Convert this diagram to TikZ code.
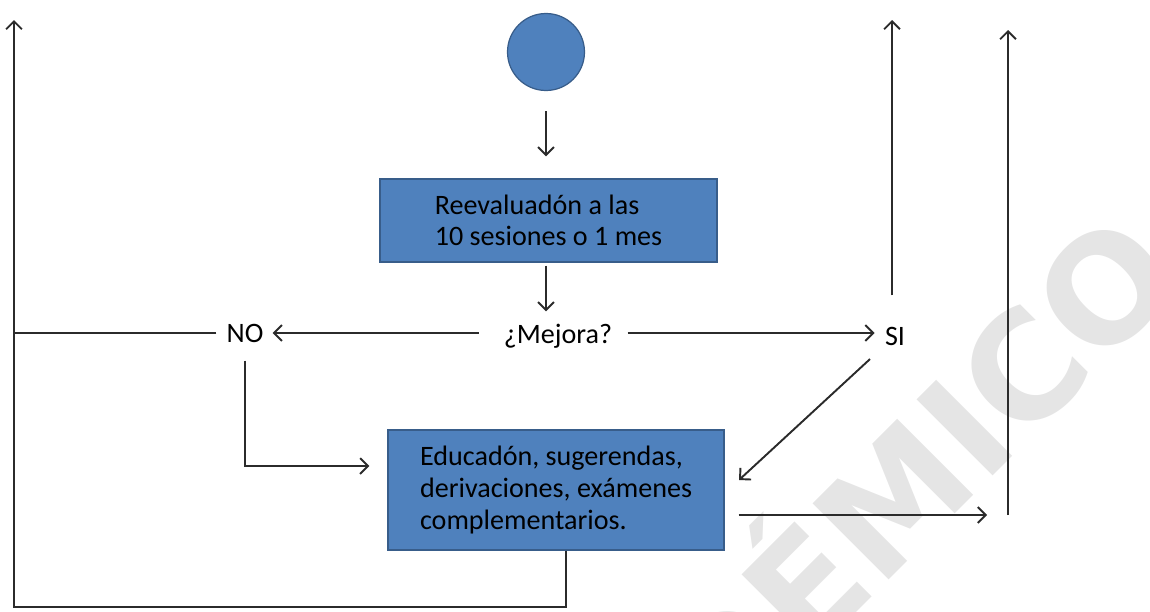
\documentclass[tikz,border=0pt]{standalone}
\usepackage{fontspec}
\setmainfont{Carlito}
\newfontfamily\marcafont{DejaVu Sans}
\usetikzlibrary{arrows.meta}
\usetikzlibrary{positioning}
\definecolor{azul}{HTML}{4F81BD}
\definecolor{azulborde}{HTML}{385D8A}
\definecolor{trazo}{HTML}{2B2B2B}
\tikzset{caja/.style = {draw=azulborde, fill=azul, line width=0.7pt, inner sep=0, align=left, font=\fontsize{16}{18}\selectfont}}
\tikzset{etiq/.style = {inner sep=0, font=\fontsize{16}{18}\selectfont}}
\tikzset{linea/.style = {draw=trazo, line width=1.1pt}}
\tikzset{flecha/.style = {linea, -{Straight Barb[length=4.5pt,width=9pt]}}}

\begin{document}
\begin{tikzpicture}[x=0.02cm, y=-0.02cm]
        \useasboundingbox (0,0) rectangle (1150,612);
        \begin{scope}
            \clip (0,0) rectangle (1150,612);
            \node [text=black!10, rotate=45, inner sep=0, font=\marcafont\bfseries\fontsize{84}{84}\selectfont] (marca) at (788,586) {ACADÉMICO};
        \end{scope}
        \node [circle, fill=azul, draw=azulborde, line width=0.7pt, minimum size=1.54cm, inner sep=0] (ini) at (546,52) {};
        \node [caja, minimum width=6.74cm, minimum height=1.66cm] (reev) at (548.5,220.5) {Reevaluadón a las\\10 sesiones o 1 mes};
        \node [etiq, anchor=base] (mejora) at (558,343) {¿Mejora?};
        \node [etiq] (no) at (245,333) {NO};
        \node [etiq] (si) at (895,336) {SI};
        \node [caja, minimum width=6.72cm, minimum height=2.4cm] (edu) at (556,490) {Educadón, sugerendas,\\derivaciones, exámenes\\complementarios.};
        \coordinate (izqarr) at (14,20);
        \coordinate (izqabj) at (14,607);
        \coordinate (sisup) at (892,20);
        \coordinate (dersup) at (1008,30);
        \coordinate (derabj) at (1008,515);
        \coordinate (diag) at (739,480);
        \draw [flecha, shorten <=0.4cm, shorten >=0.44cm] (ini) -- (ini |- reev.north);
        \draw [flecha, shorten <=0.06cm, shorten >=0.24cm] (reev.south -| ini) -- (mejora.north -| ini);
        \draw [flecha, shorten <=0.5cm, shorten >=0.18cm] (mejora.west |- no) -- (no.east);
        \draw [linea, shorten <=0.2cm] (no.west) -- (no.west -| izqabj);
        \draw [flecha, shorten <=0.3cm, shorten >=0.2cm] (mejora.east |- no) -- (si.west |- no);
        \draw [flecha, shorten <=0.62cm] (si.north -| sisup) -- (sisup);
        \draw [flecha, shorten <=0.68cm] (si.center) -- (diag);
        \draw [flecha, shorten <=0.36cm, shorten >=0.36cm] (no.south) |- ([yshift=0.48cm]edu.west);
        \draw [flecha, shorten <=0.28cm, shorten >=0.42cm] (edu.east |- derabj) -- (derabj);
        \draw [flecha] (derabj) -- (dersup);
        \draw [flecha] ([xshift=0.2cm]edu.south) |- (izqabj) -- (izqarr);
    \end{tikzpicture}
\end{document}
